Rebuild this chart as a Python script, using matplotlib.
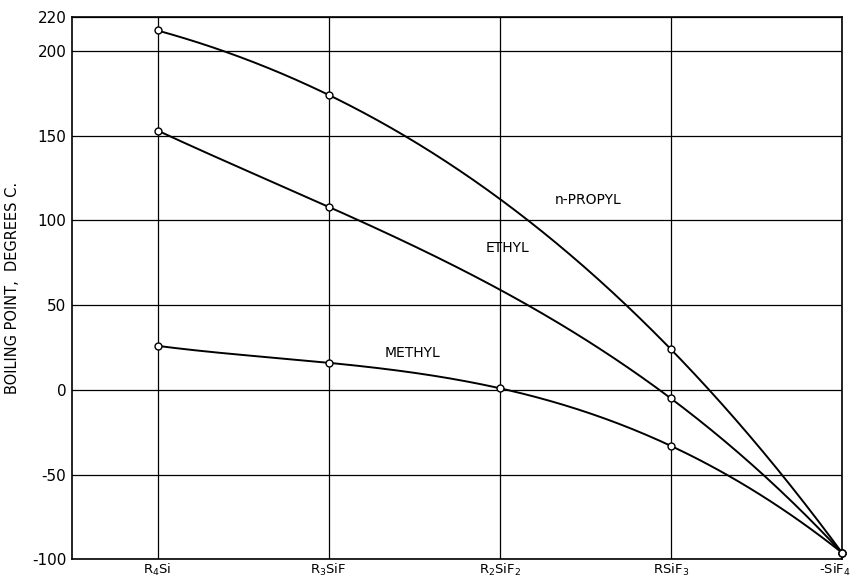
import numpy as np
import matplotlib.pyplot as plt
import matplotlib.transforms as mtransforms

# compounds along the x axis
compounds = [r"R$_4$Si", r"R$_3$SiF", r"R$_2$SiF$_2$", r"RSiF$_3$", r"-SiF$_4$"]

# boiling points (deg C)
propyl_x = [0, 1, 3, 4]
propyl_bp = [212, 174, 24, -96]

ethyl_x = [0, 1, 3, 4]
ethyl_bp = [153, 108, -5, -96]

methyl_x = [0, 1, 2, 3, 4]
methyl_bp = [26, 16, 1, -33, -96]

yticks = [-100, -50, 0, 50, 100, 150, 200, 220]

plt.rcParams['font.family'] = 'DejaVu Sans'

fig = plt.figure(figsize=(8.51, 5.84), dpi=100)
ax = fig.add_axes([0.0846, 0.042, 0.9048, 0.929])


def smooth(xs, ys):
    # smooth drawing curve through the measured points
    c = np.polyfit(xs, ys, len(xs) - 1)
    xx = np.linspace(xs[0], xs[-1], 200)
    return xx, np.polyval(c, xx)


for xs, ys in [(propyl_x, propyl_bp), (ethyl_x, ethyl_bp), (methyl_x, methyl_bp)]:
    xx, yy = smooth(xs, ys)
    ax.plot(xx, yy, color='black', linewidth=1.4, zorder=3)
    ax.plot(xs, ys, 'o', markersize=5, markerfacecolor='white',
            markeredgecolor='black', markeredgewidth=1.0, zorder=4, clip_on=False)

# curve labels
ax.text(2.32, 112, "n-PROPYL", fontsize=10, ha='left', va='center')
ax.text(1.92, 84, "ETHYL", fontsize=10, ha='left', va='center')
ax.text(1.33, 22, "METHYL", fontsize=10, ha='left', va='center')

ax.set_xlim(-0.5, 4)
ax.set_ylim(-100, 220)
ax.set_xticks(range(len(compounds)))
ax.set_xticklabels(compounds, fontsize=9.5)
ax.set_yticks(yticks)
ax.set_yticklabels([str(v) for v in yticks], fontsize=11)
ax.tick_params(axis='x', length=0, pad=2)
ax.tick_params(axis='y', length=0, pad=4)

# last label sits against the right edge
last = ax.get_xticklabels()[-1]
last.set_horizontalalignment('right')
last.set_transform(last.get_transform() +
                   mtransforms.ScaledTranslation(0.09, 0, fig.dpi_scale_trans))

ax.grid(True, color='black', linewidth=0.9)
for s in ax.spines.values():
    s.set_linewidth(1.2)

ax.set_ylabel("BOILING POINT,  DEGREES C.", fontsize=10.5, labelpad=9)

fig.savefig("out.png", dpi=100)
